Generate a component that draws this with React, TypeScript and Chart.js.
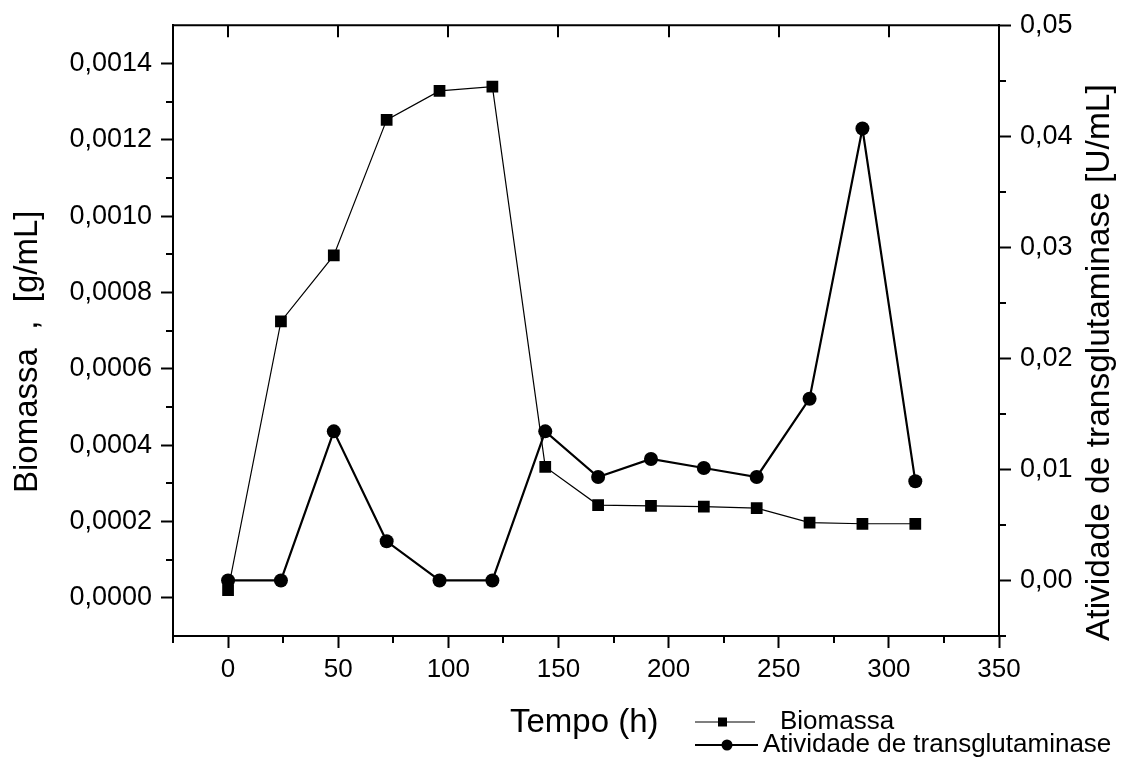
import React, { useEffect, useRef } from 'react';
import { Chart, registerables } from 'chart.js';

Chart.register(...registerables);

const FONT = '"Liberation Sans", Arial, "DejaVu Sans", sans-serif';

const timeHours = [0, 24, 48, 72, 96, 120, 144, 168, 192, 216, 240, 264, 288, 312];
const biomassValues = [0.00002, 0.000724, 0.000897, 0.001252, 0.001328, 0.001339, 0.000343, 0.000243, 0.000241, 0.000239, 0.000235, 0.000197, 0.000194, 0.000194];
const activityValues = [0, 0, 0.01343, 0.00353, 0, 0, 0.01343, 0.00932, 0.01094, 0.01013, 0.00932, 0.01637, 0.0407, 0.00893];

const xMajorTicks = [0, 50, 100, 150, 200, 250, 300, 350];
const xMinorTicks = [-25, 25, 75, 125, 175, 225, 275, 325];
const leftMajorTicks = [0, 0.0002, 0.0004, 0.0006, 0.0008, 0.001, 0.0012, 0.0014];
const leftMinorTicks = [0.0001, 0.0003, 0.0005, 0.0007, 0.0009, 0.0011, 0.0013];
const rightMajorTicks = [0, 0.01, 0.02, 0.03, 0.04, 0.05];
const rightMinorTicks = [-0.005, 0.005, 0.015, 0.025, 0.035, 0.045];

const xTitle = 'Tempo (h)';
const leftTitle = 'Biomassa  ,  [g/mL]';
const rightTitle = 'Atividade de transglutaminase [U/mL]';
const seriesLabels = ['Biomassa', 'Atividade de transglutaminase'];

const decoPlugin = {
  id: 'deco',
  afterDraw(chart: any) {
    const { ctx, chartArea: a, scales } = chart;
    ctx.save();
    ctx.strokeStyle = '#000';
    ctx.fillStyle = '#000';
    ctx.lineWidth = 2;
    // top frame line and inward major ticks
    ctx.beginPath();
    ctx.moveTo(a.left - 1, a.top);
    ctx.lineTo(a.right + 1, a.top);
    xMajorTicks.forEach((v) => {
      const px = Math.round(scales.x.getPixelForValue(v));
      if (px > a.left + 3 && px < a.right - 3) {
        ctx.moveTo(px, a.top);
        ctx.lineTo(px, a.top + 12);
      }
    });
    // minor ticks
    xMinorTicks.forEach((v) => {
      const px = Math.round(scales.x.getPixelForValue(v));
      ctx.moveTo(px, a.bottom);
      ctx.lineTo(px, a.bottom + 7);
    });
    leftMinorTicks.forEach((v) => {
      const py = Math.round(scales.y.getPixelForValue(v));
      ctx.moveTo(a.left, py);
      ctx.lineTo(a.left - 7, py);
    });
    rightMinorTicks.forEach((v) => {
      const py = Math.round(scales.y1.getPixelForValue(v));
      ctx.moveTo(a.right, py);
      ctx.lineTo(a.right + 7, py);
    });
    ctx.stroke();

    // axis titles
    ctx.textBaseline = 'alphabetic';
    ctx.font = `33px ${FONT}`;
    ctx.textAlign = 'left';
    ctx.fillText(xTitle, 510, 732);

    ctx.save();
    ctx.font = `33px ${FONT}`;
    ctx.translate(37, 493);
    ctx.rotate(-Math.PI / 2);
    ctx.textAlign = 'left';
    ctx.fillText(leftTitle, 0, 0);
    ctx.restore();

    ctx.save();
    ctx.font = `33.5px ${FONT}`;
    ctx.translate(1109, 641);
    ctx.rotate(-Math.PI / 2);
    ctx.textAlign = 'left';
    ctx.fillText(rightTitle, 0, 0);
    ctx.restore();

    // legend
    const ds = chart.data.datasets;
    ctx.font = `26px ${FONT}`;
    ctx.textBaseline = 'middle';
    ctx.lineWidth = ds[0].borderWidth;
    ctx.beginPath();
    ctx.moveTo(695, 722);
    ctx.lineTo(755, 722);
    ctx.stroke();
    ctx.fillRect(718, 717.5, 9, 9);
    ctx.fillText(ds[0].label, 780, 722);
    ctx.lineWidth = ds[1].borderWidth;
    ctx.beginPath();
    ctx.moveTo(695, 745);
    ctx.lineTo(758, 745);
    ctx.stroke();
    ctx.beginPath();
    ctx.arc(727, 745, 5.5, 0, Math.PI * 2);
    ctx.fill();
    ctx.fillText(ds[1].label, 763, 745);
    ctx.restore();
  },
};

export default function App() {
  const ref = useRef<HTMLCanvasElement>(null);
  useEffect(() => {
    const yTickFont = { family: FONT, size: 27 };
    const xTickFont = { family: FONT, size: 26 };
    const chart = new Chart(ref.current as HTMLCanvasElement, {
      type: 'line',
      data: {
        datasets: [
          {
            label: seriesLabels[0],
            data: timeHours.map((x, i) => ({ x, y: biomassValues[i] })),
            yAxisID: 'y',
            borderColor: '#000',
            backgroundColor: '#000',
            borderWidth: 1.2,
            pointStyle: 'rect',
            pointRadius: 8.3,
            pointBorderWidth: 0,
            pointBackgroundColor: '#000',
            tension: 0,
          },
          {
            label: seriesLabels[1],
            data: timeHours.map((x, i) => ({ x, y: activityValues[i] })),
            yAxisID: 'y1',
            borderColor: '#000',
            backgroundColor: '#000',
            borderWidth: 2.2,
            pointStyle: 'circle',
            pointRadius: 7,
            pointBorderWidth: 0,
            pointBackgroundColor: '#000',
            tension: 0,
          },
        ],
      },
      options: {
        responsive: false,
        animation: false,
        devicePixelRatio: 1,
        layout: { padding: { top: 25, left: 0, right: 0, bottom: 0 } },
        plugins: { legend: { display: false }, tooltip: { enabled: false } },
        scales: {
          x: {
            type: 'linear',
            position: 'bottom',
            min: -25,
            max: 350,
            afterBuildTicks: (s: any) => {
              s.ticks = xMajorTicks.map((value) => ({ value }));
            },
            afterFit: (s: any) => {
              s.height = 132;
            },
            ticks: {
              font: xTickFont,
              color: '#000',
              padding: 6,
              autoSkip: false,
              maxRotation: 0,
              callback: (v: any) => String(v),
            },
            grid: { drawOnChartArea: false, tickLength: 12, tickWidth: 2, tickColor: '#000' },
            border: { color: '#000', width: 2 },
          },
          y: {
            type: 'linear',
            position: 'left',
            min: -0.0001,
            max: 0.0015,
            afterBuildTicks: (s: any) => {
              s.ticks = leftMajorTicks.map((value) => ({ value }));
            },
            afterFit: (s: any) => {
              s.width = 173;
            },
            ticks: {
              font: yTickFont,
              color: '#000',
              padding: 9,
              autoSkip: false,
              callback: (v: any) => Number(v).toFixed(4).replace('.', ','),
            },
            grid: { drawOnChartArea: false, tickLength: 12, tickWidth: 2, tickColor: '#000' },
            border: { color: '#000', width: 2 },
          },
          y1: {
            type: 'linear',
            position: 'right',
            min: -0.005,
            max: 0.05,
            afterBuildTicks: (s: any) => {
              s.ticks = rightMajorTicks.map((value) => ({ value }));
            },
            afterFit: (s: any) => {
              s.width = 126;
            },
            ticks: {
              font: yTickFont,
              color: '#000',
              padding: 9,
              autoSkip: false,
              callback: (v: any) => Number(v).toFixed(2).replace('.', ','),
            },
            grid: { drawOnChartArea: false, tickLength: 12, tickWidth: 2, tickColor: '#000' },
            border: { color: '#000', width: 2 },
          },
        },
      },
      plugins: [decoPlugin],
    } as any);
    return () => chart.destroy();
  }, []);
  return (
    <div style={{ position: 'fixed', left: 0, top: 0, width: 1125, height: 768, background: '#fff' }}>
      <canvas ref={ref} width={1125} height={768} style={{ display: 'block', width: 1125, height: 768 }} />
    </div>
  );
}
